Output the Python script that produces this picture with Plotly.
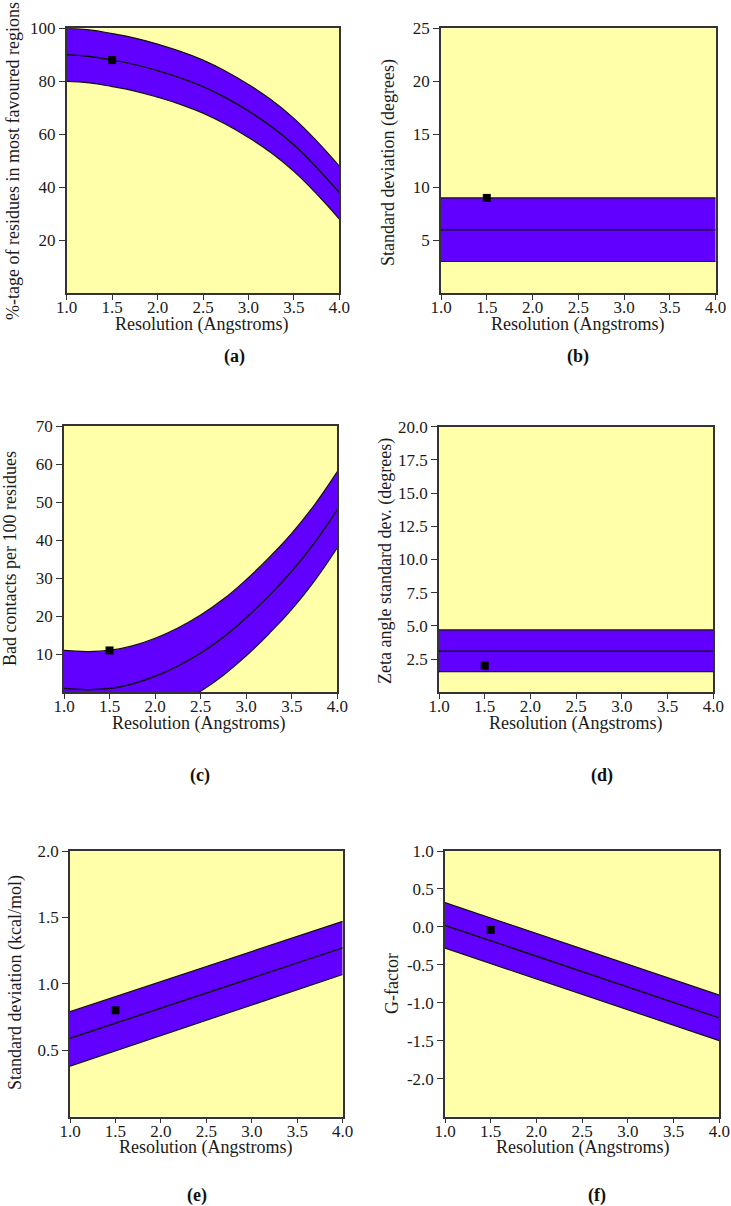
import plotly.graph_objects as go

W, H = 731, 1206

# ---------------- data ----------------
res_curve = [1.0, 1.25, 1.5, 1.75, 2.0, 2.25, 2.5, 2.75, 3.0, 3.25, 3.5, 3.75, 4.0]
res_line = [1.0, 4.0]

# (a) % residues in most favoured regions
a_center = [90.0, 89.4, 88.0, 86.3, 84.0, 81.3, 78.0, 73.8, 68.8, 63.0, 56.0, 47.5, 38.0]
a_upper = [100.0, 99.4, 98.0, 96.3, 94.0, 91.3, 88.0, 83.8, 78.8, 73.0, 66.0, 57.5, 48.0]
a_lower = [80.0, 79.4, 78.0, 76.3, 74.0, 71.3, 68.0, 63.8, 58.8, 53.0, 46.0, 37.5, 28.0]
a_point = (1.5, 88.0)

# (b) standard deviation (degrees)
b_center = [6.0, 6.0]
b_upper = [9.0, 9.0]
b_lower = [3.0, 3.0]
b_point = (1.5, 9.0)

# (c) bad contacts per 100 residues
c_center = [1.0, 0.7, 1.0, 2.2, 4.2, 6.9, 10.3, 14.5, 19.6, 25.4, 31.8, 39.3, 48.0]
c_upper = [11.0, 10.7, 11.0, 12.2, 14.2, 16.9, 20.3, 24.5, 29.6, 35.4, 41.8, 49.3, 58.0]
c_lower = [-9.0, -9.3, -9.0, -7.8, -5.8, -3.1, 0.3, 4.5, 9.6, 15.4, 21.8, 29.3, 38.0]
c_point = (1.5, 11.0)

# (d) zeta angle standard dev.
d_center = [3.1, 3.1]
d_upper = [4.7, 4.7]
d_lower = [1.55, 1.55]
d_point = (1.5, 2.0)

# (e) standard deviation (kcal/mol)
e_center = [0.59, 1.27]
e_upper = [0.79, 1.47]
e_lower = [0.38, 1.07]
e_point = (1.5, 0.80)

# (f) G-factor
f_center = [0.02, -1.20]
f_upper = [0.32, -0.90]
f_lower = [-0.28, -1.50]
f_point = (1.5, -0.04)

x_ticks = [1.0, 1.5, 2.0, 2.5, 3.0, 3.5, 4.0]
x_ticktext = ["1.0", "1.5", "2.0", "2.5", "3.0", "3.5", "4.0"]

a_yticks = [20, 40, 60, 80, 100]
b_yticks = [5, 10, 15, 20, 25]
c_yticks = [10, 20, 30, 40, 50, 60, 70]
d_yticks = [2.5, 5.0, 7.5, 10.0, 12.5, 15.0, 17.5, 20.0]
d_ytext = ["2.5", "5.0", "7.5", "10.0", "12.5", "15.0", "17.5", "20.0"]
e_yticks = [0.5, 1.0, 1.5, 2.0]
e_ytext = ["0.5", "1.0", "1.5", "2.0"]
f_yticks = [-2.0, -1.5, -1.0, -0.5, 0.0, 0.5, 1.0]
f_ytext = ["-2.0", "-1.5", "-1.0", "-0.5", "0.0", "0.5", "1.0"]

x_title = "Resolution (Angstroms)"
y_titles = [
    "%-tage of residues in most favoured regions",
    "Standard deviation (degrees)",
    "Bad contacts per 100 residues",
    "Zeta angle standard dev. (degrees)",
    "Standard deviation (kcal/mol)",
    "G-factor",
]
panel_labels = ["(a)", "(b)", "(c)", "(d)", "(e)", "(f)"]

# ---------------- styling / layout ----------------
BG = "#FFFFAA"
BAND = "#6200FF"
FONT = "Liberation Serif, Times New Roman, serif"
TXT = "#1a1a1a"

# pixel boxes: (left, right, top, bottom)
boxes = [
    (66.7, 339.3, 28.3, 293.3),
    (441.0, 715.7, 28.3, 293.3),
    (64.0, 337.3, 426.0, 692.3),
    (439.0, 713.3, 426.7, 692.3),
    (70.0, 342.7, 851.0, 1116.5),
    (445.0, 719.3, 851.0, 1116.5),
]
yranges = [[0, 100], [0, 25], [0, 70], [0, 20], [0, 2.0], [-2.5, 1.0]]
ytickvals = [a_yticks, b_yticks, c_yticks, d_yticks, e_yticks, f_yticks]
yticktexts = [[str(v) for v in a_yticks], [str(v) for v in b_yticks],
              [str(v) for v in c_yticks], d_ytext, e_ytext, f_ytext]

xtitle_pos = [(201.5, 324), (578.3, 324), (199, 723.5), (576, 723.5), (205.7, 1147), (582.5, 1147)]
ytitle_pos = [(13, 161), (388, 163), (10, 559), (385, 561), (15, 983), (392, 984)]
label_pos = [(234, 357), (578, 357), (200, 775), (602, 775), (197, 1195), (597, 1195)]

series = [
    (res_curve, a_lower, a_upper, a_center, a_point, "spline"),
    (res_line, b_lower, b_upper, b_center, b_point, "linear"),
    (res_curve, c_lower, c_upper, c_center, c_point, "spline"),
    (res_line, d_lower, d_upper, d_center, d_point, "linear"),
    (res_line, e_lower, e_upper, e_center, e_point, "linear"),
    (res_line, f_lower, f_upper, f_center, f_point, "linear"),
]

fig = go.Figure()
layout = dict(
    width=W, height=H,
    margin=dict(l=0, r=0, t=0, b=0, pad=0),
    paper_bgcolor="white",
    plot_bgcolor=BG,
    showlegend=False,
    font=dict(family=FONT, size=17, color=TXT),
)

annotations = []

def px(xp):
    return xp / W

def py(yp):
    return 1 - yp / H

for i, (xs, lo, up, ce, pt, shape) in enumerate(series):
    n = i + 1
    xa = "x" if n == 1 else f"x{n}"
    ya = "y" if n == 1 else f"y{n}"
    l, r, t, b = boxes[i]
    layout["xaxis" if n == 1 else f"xaxis{n}"] = dict(
        domain=[px(l), px(r)], anchor=ya, range=[1.0, 4.0], automargin=False,
        tickvals=x_ticks, ticktext=x_ticktext,
        showline=True, linecolor="#333333", linewidth=1.5, mirror=True,
        ticks="outside", ticklen=5, tickcolor="#333333", tickwidth=1.2,
        ticklabelstandoff=-7,
        showgrid=False, zeroline=False, fixedrange=True,
        tickfont=dict(family=FONT, size=17, color=TXT),
    )
    layout["yaxis" if n == 1 else f"yaxis{n}"] = dict(
        domain=[py(b), py(t)], anchor=xa, range=yranges[i], automargin=False,
        tickvals=ytickvals[i], ticktext=yticktexts[i],
        showline=True, linecolor="#333333", linewidth=1.5, mirror=True,
        ticks="outside", ticklen=6, tickcolor="#333333", tickwidth=1.2,
        showgrid=False, zeroline=False, fixedrange=True,
        tickfont=dict(family=FONT, size=17, color=TXT),
    )
    ln = dict(color="#111111", width=1.2, shape=shape)
    if shape == "spline":
        ln["smoothing"] = 1.3
    fig.add_trace(go.Scatter(x=xs, y=lo, xaxis=xa, yaxis=ya, mode="lines",
                             line=ln, hoverinfo="skip"))
    fig.add_trace(go.Scatter(x=xs, y=up, xaxis=xa, yaxis=ya, mode="lines",
                             fill="tonexty", fillcolor=BAND,
                             line=ln, hoverinfo="skip"))
    lc = dict(ln, width=1.5)
    fig.add_trace(go.Scatter(x=xs, y=ce, xaxis=xa, yaxis=ya, mode="lines",
                             line=lc, hoverinfo="skip"))
    fig.add_trace(go.Scatter(x=[pt[0]], y=[pt[1]], xaxis=xa, yaxis=ya, mode="markers",
                             marker=dict(symbol="square", size=8, color="black"),
                             cliponaxis=False))

    tx, ty = xtitle_pos[i]
    annotations.append(dict(text=x_title, x=px(tx), y=py(ty), xref="paper", yref="paper",
                            xanchor="center", yanchor="middle", showarrow=False,
                            font=dict(family=FONT, size=18, color=TXT)))
    yx, yy = ytitle_pos[i]
    annotations.append(dict(text=y_titles[i], x=px(yx), y=py(yy), xref="paper", yref="paper",
                            xanchor="center", yanchor="middle", showarrow=False, textangle=-90,
                            font=dict(family=FONT, size=18, color=TXT)))
    lx, ly = label_pos[i]
    annotations.append(dict(text="<b>" + panel_labels[i] + "</b>", x=px(lx), y=py(ly),
                            xref="paper", yref="paper", xanchor="center", yanchor="middle",
                            showarrow=False, font=dict(family=FONT, size=18, color="#111111")))

layout["annotations"] = annotations
fig.update_layout(**layout)
fig.write_html(
    "out.html",
    config={"displayModeBar": False},
    post_script="document.body.style.margin='0px';document.body.style.overflow='hidden';",
)
